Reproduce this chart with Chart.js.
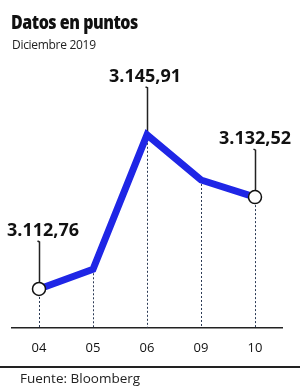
<!DOCTYPE html>
<html>
<head>
<meta charset="utf-8">
<script src="https://cdn.jsdelivr.net/npm/chart.js@4.4.1/dist/chart.umd.min.js"></script>
<style>
    html, body { margin: 0; padding: 0; background: #fff; }
    #wrap { position: relative; width: 307px; height: 388px; overflow: hidden; }
    #titulo { position: absolute; left: 11px; top: 8px; font: 800 20px 'Open Sans', sans-serif; color: #111; letter-spacing: -0.6px; transform: scaleX(0.8); transform-origin: left top; }
    #subtitulo { position: absolute; left: 12px; top: 36px; font: 12px 'Open Sans', sans-serif; color: #222; letter-spacing: -0.3px; }
    #pie { position: absolute; left: 20px; top: 369px; font: 13.5px 'Open Sans', sans-serif; color: #222; }
    #linea-pie { position: absolute; left: 0; top: 366px; width: 300px; height: 0; border-top: 2px solid #222; }
    canvas { position: absolute; left: 0; top: 0; }
</style>
</head>
<body>
<div id="wrap">
    <canvas id="grafico" width="307" height="388"></canvas>
    <div id="titulo">Datos en puntos</div>
    <div id="subtitulo">Diciembre 2019</div>
    <div id="linea-pie"></div>
    <div id="pie">Fuente: Bloomberg</div>
</div>
<script>
// Datos
const dias = ['04', '05', '06', '09', '10'];
const puntos = [3112.76, 3117.0, 3145.91, 3136.2, 3132.52];
const etiquetas = ['3.112,76', null, '3.145,91', null, '3.132,52'];
const desplaza = [4, 0, -2, 0, 0];

// Lineas punteadas hacia el eje y llamadas con el valor
const guias = {
    id: 'guias',
    beforeDatasetsDraw(chart) {
        const ctx = chart.ctx;
        const meta = chart.getDatasetMeta(0);
        const fondo = chart.chartArea.bottom;
        ctx.save();
        meta.data.forEach(function(p, i) {
            const x = Math.round(p.x) + 0.5;
            // punteada
            ctx.beginPath();
            ctx.setLineDash([2, 2]);
            ctx.strokeStyle = '#2b3a55';
            ctx.lineWidth = 1;
            ctx.moveTo(x, p.y);
            ctx.lineTo(x, fondo);
            ctx.stroke();
            // llamada
            if (etiquetas[i]) {
                ctx.setLineDash([]);
                ctx.strokeStyle = '#222';
                ctx.lineWidth = 1.5;
                ctx.beginPath();
                ctx.moveTo(x, p.y);
                ctx.lineTo(x, p.y - 47);
                ctx.lineTo(x - 2, p.y - 48);
                ctx.stroke();
            }
        });
        ctx.restore();
    },
    afterDatasetsDraw(chart) {
        const ctx = chart.ctx;
        const meta = chart.getDatasetMeta(0);
        ctx.save();
        ctx.font = 'bold 18px "Open Sans", sans-serif';
        ctx.fillStyle = '#111';
        ctx.textAlign = 'center';
        ctx.textBaseline = 'middle';
        meta.data.forEach(function(p, i) {
            if (etiquetas[i]) {
                ctx.fillText(etiquetas[i], p.x + desplaza[i], p.y - 58);
            }
        });
        ctx.restore();
    }
};

new Chart(document.getElementById('grafico'), {
    type: 'line',
    data: {
        labels: dias,
        datasets: [{
            data: puntos,
            borderColor: '#1f26e6',
            borderWidth: 7,
            borderJoinStyle: 'miter',
            tension: 0,
            pointRadius: puntos.map((v, i) => (i === 0 || i === 4) ? 6.5 : 0),
            pointBackgroundColor: '#fff',
            pointBorderColor: '#111',
            pointBorderWidth: 1.5
        }]
    },
    options: {
        responsive: false,
        animation: false,
        layout: { padding: { left: 12, right: 25, top: 60, bottom: 19 } },
        scales: {
            x: {
                offset: true,
                grid: { display: false, drawTicks: false },
                border: { display: true, color: '#222', width: 1.5 },
                ticks: {
                    padding: 13,
                    color: '#111',
                    font: { family: '"Open Sans", sans-serif', size: 13 }
                }
            },
            y: {
                display: false,
                min: 3104.5,
                max: 3162
            }
        },
        plugins: {
            legend: { display: false },
            tooltip: { enabled: false }
        }
    },
    plugins: [guias]
});
</script>
</body>
</html>
